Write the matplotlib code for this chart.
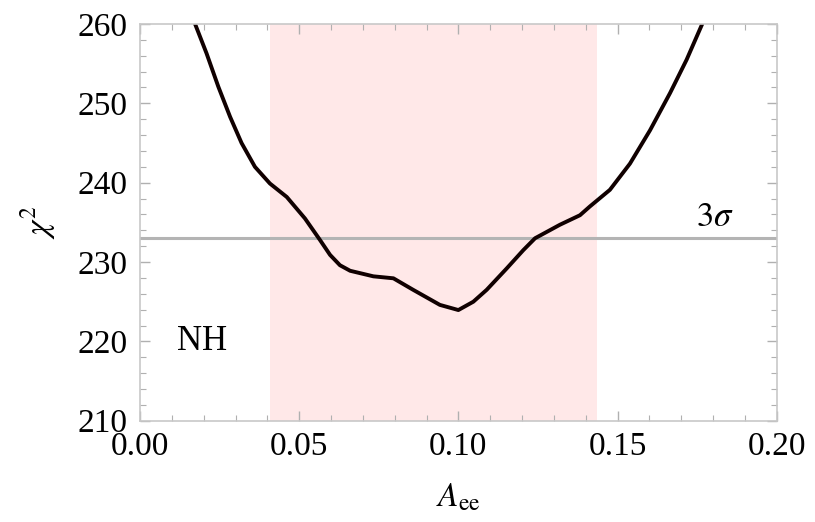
import numpy as np
import matplotlib.pyplot as plt
from matplotlib.ticker import MultipleLocator

# chi^2 curve
a_ee = [0.0173, 0.0209, 0.0246, 0.0283, 0.0319, 0.0361, 0.0408, 0.0461, 0.0518,
        0.0565, 0.0597, 0.0628, 0.0660, 0.0733, 0.0796, 0.0858, 0.0942, 0.1000,
        0.1047, 0.1089, 0.1152, 0.1204, 0.1241, 0.1319, 0.1382, 0.1413, 0.1476,
        0.1539, 0.1602, 0.1665, 0.1717, 0.1766]
chi2 = [260.0, 256.3, 252.1, 248.3, 245.0, 242.0, 239.9, 238.2, 235.5,
        232.8, 230.9, 229.6, 228.9, 228.2, 227.95, 226.5, 224.6, 223.95,
        225.0, 226.5, 229.2, 231.5, 233.0, 234.7, 235.9, 237.0, 239.1,
        242.4, 246.6, 251.3, 255.5, 260.0]

band = (0.0408, 0.1434)
three_sigma = 233.0

plt.rcParams['font.family'] = ['Liberation Serif', 'DejaVu Serif']
plt.rcParams['mathtext.fontset'] = 'stix'

fig = plt.figure(figsize=(8.15, 5.22), dpi=100)
ax = fig.add_axes([0.1718, 0.194, 0.7812, 0.760])

ax.axvspan(band[0], band[1], color='#ffe8e8', lw=0, zorder=0)
ax.axhline(three_sigma, color='#b4b4b4', lw=2.2, zorder=1)
ax.plot(a_ee, chi2, color='#100000', lw=2.8, zorder=2,
        solid_joinstyle='round', solid_capstyle='round')

ax.text(0.0196, 220, 'NH', fontsize=25, ha='center', va='center')
ax.text(0.1805, 233.5, r'$3\sigma$', fontsize=25, ha='center', va='bottom')

ax.set_xlim(0, 0.2)
ax.set_ylim(210, 260)
ax.xaxis.set_major_locator(MultipleLocator(0.05))
ax.xaxis.set_minor_locator(MultipleLocator(0.01))
ax.yaxis.set_major_locator(MultipleLocator(10))
ax.yaxis.set_minor_locator(MultipleLocator(2))
ax.xaxis.set_major_formatter(plt.FuncFormatter(lambda v, p: '%.2f' % v))

for s in ax.spines.values():
    s.set_color('#c8c8c8')
    s.set_linewidth(1.2)
ax.tick_params(which='both', direction='in', top=True, right=True,
               color='#b0b0b0', labelsize=24)
ax.tick_params(which='major', length=7, width=1)
ax.tick_params(which='minor', length=4, width=0.8)
ax.tick_params(axis='x', pad=8)
ax.tick_params(axis='y', pad=9)

ax.set_xlabel(r'$A_{\rm ee}$', fontsize=24, labelpad=14)
ax.set_ylabel(r'$\chi^2$', fontsize=24, labelpad=14)

fig.savefig('out.png', dpi=100)
